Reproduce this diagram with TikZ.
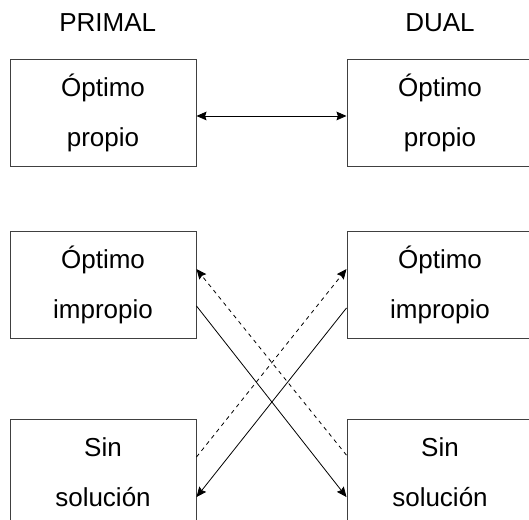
\documentclass[tikz,border=0pt]{standalone}
\usepackage{fontspec}
\setmainfont{Liberation Sans}
\usepackage{tikz}
\usetikzlibrary{arrows.meta, positioning}
\tikzset{
    box/.style={rectangle, minimum width=139.5pt, minimum height=80.25pt, align=center, draw=black!75, line width=0.75pt, font=\fontsize{19.5}{37.5}\selectfont},
    title/.style={inner sep=0pt, font=\fontsize{19.5}{24}\selectfont},
    arrow/.style={->,>={Stealth[length=7.5pt, width=6.5pt, inset=1pt]}, line width=0.6pt},
    dasharrow/.style={arrow, dashed}
}

\begin{document}
\begin{tikzpicture}[x=0.75pt, y=-0.75pt]
    \clip (0,0) rectangle (529,519);
    \node (p1) [box] at (103,112.5) {Óptimo\\propio};
    \node (d1) [box, right=112.5pt of p1] {Óptimo\\propio};
    \node (p2) [box, below=48pt of p1] {Óptimo\\impropio};
    \node (d2) [box, below=48pt of d1] {Óptimo\\impropio};
    \node (p3) [box, below=60pt of p2] {Sin\\solución};
    \node (d3) [box, below=60pt of d2] {Sin\\solución};
    \node (primal) [title, above=20pt of p1, xshift=3.5pt] {PRIMAL};
    \node (dual) [title, above=20pt of d1] {DUAL};

    \draw [arrow, <->] ([yshift=-2.6pt]p1.east) -- ([yshift=-2.6pt]d1.west);

    \draw [arrow] ([yshift=-16.1pt]p2.east) -- ([yshift=-18.4pt]d3.west);
    \draw [arrow] ([yshift=-17.6pt]d2.west) -- ([yshift=-18.4pt]p3.east);
    \draw [dasharrow] ([yshift=11.6pt]p3.east) -- ([yshift=11.6pt]d2.west);
    \draw [dasharrow] ([yshift=13pt]d3.west) -- ([yshift=11.6pt]p2.east);
\end{tikzpicture}
\end{document}
